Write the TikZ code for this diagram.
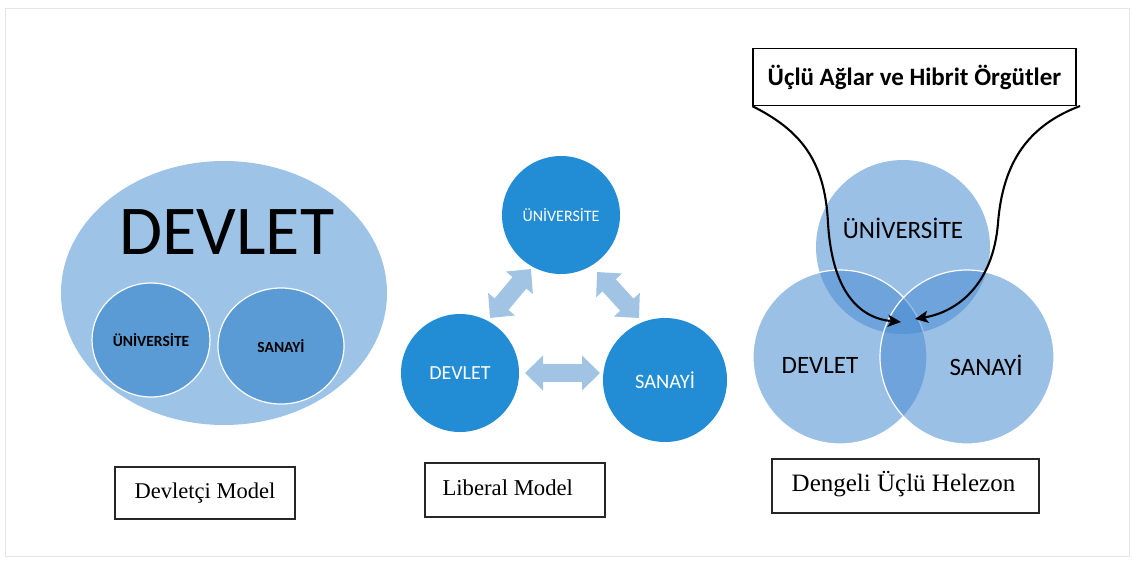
\documentclass[tikz,border=0pt]{standalone}
\usepackage{fontspec}
\setmainfont{Liberation Serif}
\newfontfamily\calfnt{Carlito}
\usetikzlibrary{shapes.geometric,arrows.meta}
\definecolor{lightbl}{RGB}{157,195,230}
\definecolor{midbl}{RGB}{91,155,213}
\definecolor{libbl}{RGB}{34,140,213}
\definecolor{arrbl}{RGB}{162,196,228}
\definecolor{vennbl}{RGB}{73,140,210}
\begin{document}
\begin{tikzpicture}[x=1pt,y=-1pt,
  inner/.style={ellipse,fill=midbl,draw=white,line width=1.2pt,inner sep=0pt,font=\calfnt\bfseries\fontsize{15.5}{17}\selectfont},
  libc/.style={circle,fill=libbl,minimum size=118pt,inner sep=0pt,text=white},
  fat/.style={arrbl,line width=18pt,{Triangle[length=18pt,width=34pt]}-{Triangle[length=18pt,width=34pt]}},
  venn/.style={circle,fill=vennbl,fill opacity=0.55,text opacity=1,minimum size=174pt,inner sep=0pt},
  label/.style={draw=black!85,line width=1.2pt,inner sep=0pt},
  link/.style={line width=2.1pt,-{Stealth[length=13pt,width=12pt,inset=3pt]}}]
\useasboundingbox (0,0) rectangle (1132,560);
\draw[black!10,line width=1pt] (5,8) rectangle (1129,556);
% Devletci model
\node[ellipse,fill=lightbl,minimum width=326pt,minimum height=264pt,inner sep=0pt] (st) at (224,293) {};
\node[font=\calfnt\fontsize{70}{74}\selectfont] (stl) at (227,232) {DEVLET};
\node[inner,minimum width=118pt,minimum height=114pt] (su) at (151,340) {ÜNİVERSİTE};
\node[inner,minimum width=126pt,minimum height=116pt] (ss) at (281,346) {SANAYİ};
\node[label,minimum width=180pt,minimum height=52pt,font=\fontsize{22.5}{26}\selectfont] (b1) at (205,493) {Devletçi Model};
% Liberal model
\node[libc,font=\calfnt\fontsize{16}{18}\selectfont] (lu) at (561,215) {ÜNİVERSİTE};
\node[libc,font=\calfnt\fontsize{20}{22}\selectfont] (ld) at (460,373) {DEVLET};
\node[libc,minimum size=124pt,font=\calfnt\fontsize{20.5}{22}\selectfont] (ls) at (665,380) {SANAYİ};
\coordinate (a1s) at (525,373);
\coordinate (a1e) at (600,373);
\coordinate (a2s) at (490,318);
\coordinate (a2e) at (531,269);
\coordinate (a3s) at (597,272);
\coordinate (a3e) at (639,318);
\draw[fat] (a1s) -- (a1e);
\draw[fat] (a2s) -- (a2e);
\draw[fat] (a3s) -- (a3e);
\node[label,minimum width=180pt,minimum height=54pt] (b2) at (515,490) {};
\node[font=\fontsize{22.7}{26}\selectfont,anchor=west] (b2t) at (439,488) {Liberal Model};
% Triple helix
\node[venn] (vu) at (903,247) {};
\node[venn,draw=white,draw opacity=1,line width=1.2pt] (vd) at (840,357) {};
\node[venn,draw=white,draw opacity=1,line width=1.2pt] (vs) at (967,357) {};
\node[font=\calfnt\fontsize{25}{28}\selectfont] (vut) at (903,228) {ÜNİVERSİTE};
\node[font=\calfnt\fontsize{25}{28}\selectfont] (vdt) at (820,365) {DEVLET};
\node[font=\calfnt\fontsize{25}{28}\selectfont] (vst) at (986,365) {SANAYİ};
\node[label,minimum width=267pt,minimum height=54pt] (b3) at (905.5,486) {};
\node[font=\fontsize{25}{28}\selectfont] (b3t) at (903.5,484) {Dengeli Üçlü Helezon};
\node[draw=black,fill=white,line width=1.3pt,minimum width=323pt,minimum height=57pt,inner sep=0pt,font=\calfnt\bfseries\fontsize{25}{28}\selectfont] (top) at (914.5,77) {Üçlü Ağlar ve Hibrit Örgütler};
\coordinate (tipL) at (901,322);
\coordinate (tipR) at (915,319);
\coordinate (endR) at (1080,106);
\draw[link] (top.south west) .. controls (800,130) and (825,160) .. (828,223) .. controls (832,290) and (858,318) .. (tipL);
\draw[link] (endR) .. controls (1030,125) and (1003,160) .. (998,223) .. controls (993,285) and (957,312) .. (tipR);
\end{tikzpicture}
\end{document}
